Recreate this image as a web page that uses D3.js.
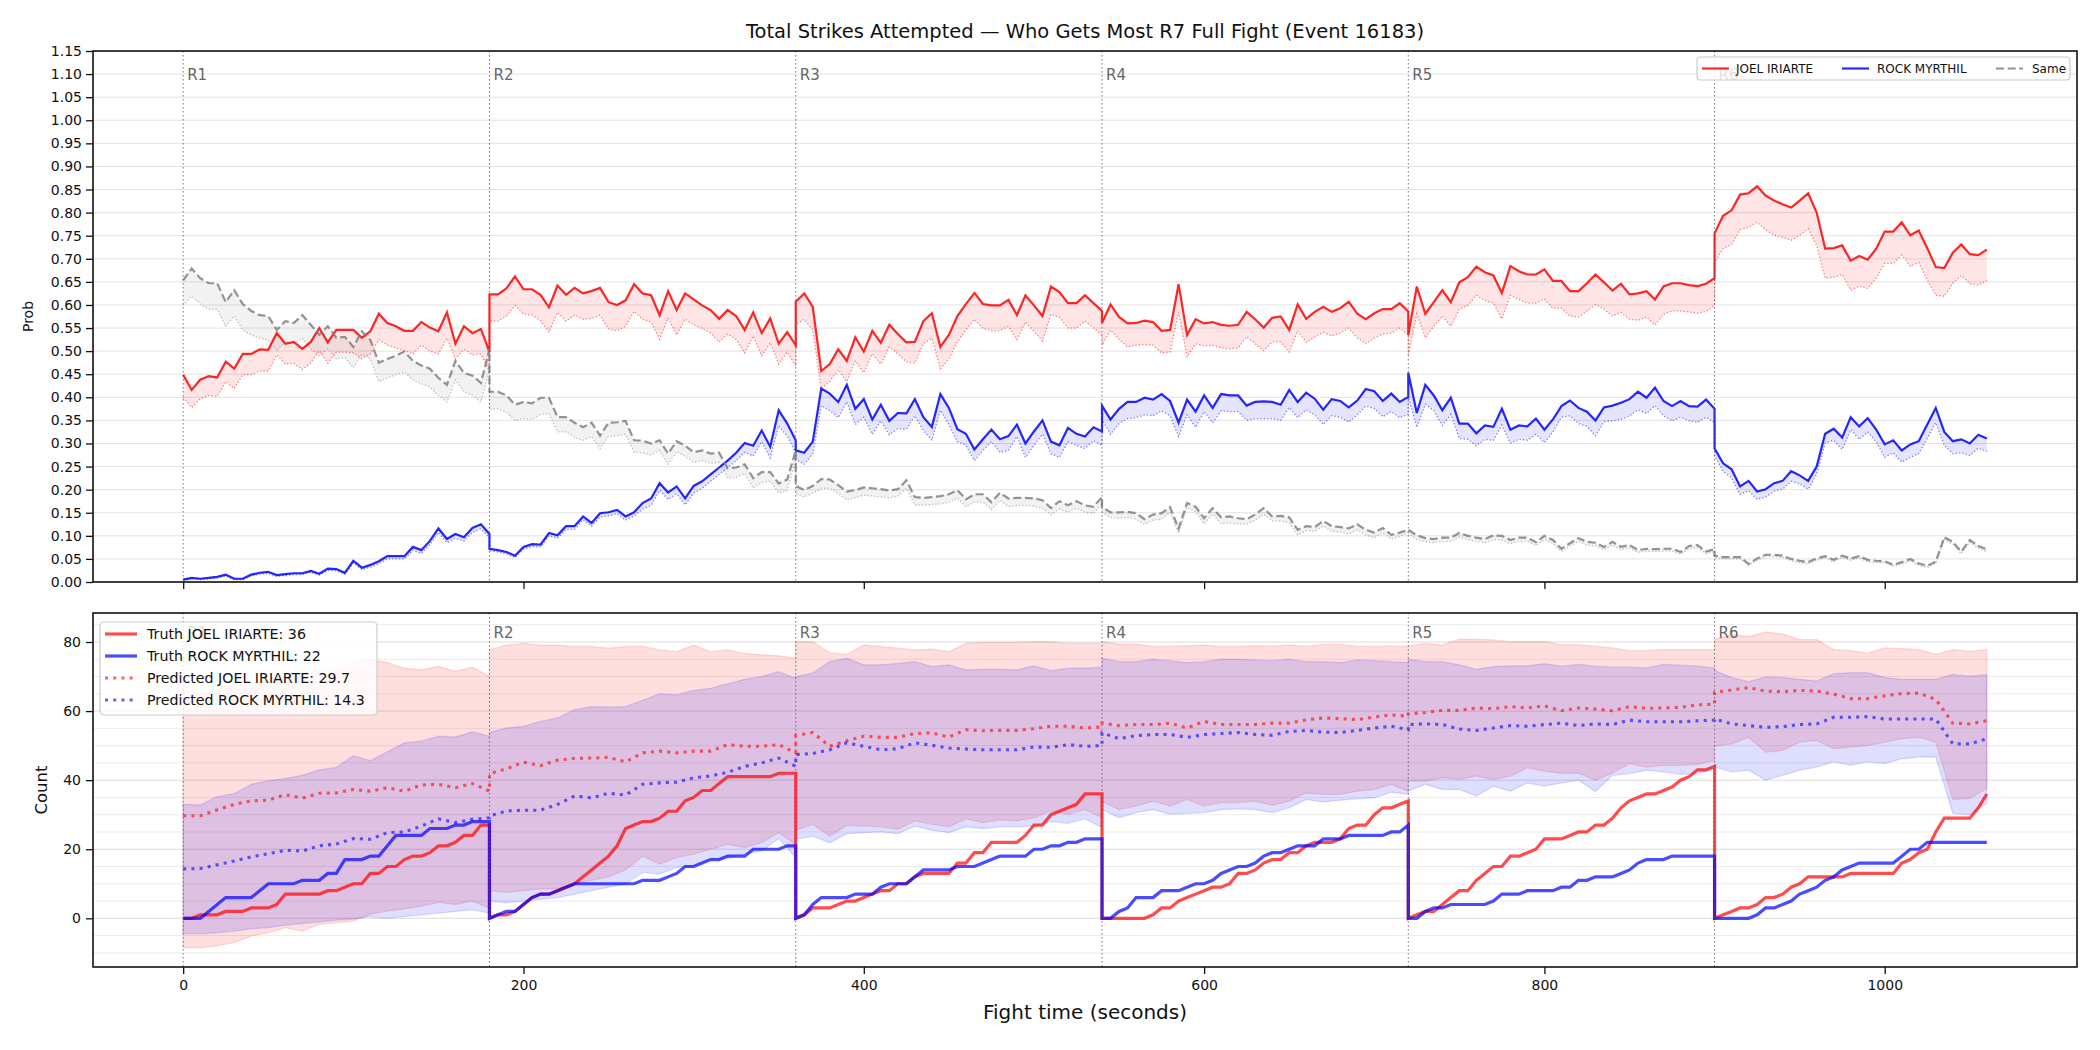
<!DOCTYPE html>
<html lang="en">
<head>
<meta charset="UTF-8">
<title>Total Strikes Attempted</title>
<script src="https://cdn.jsdelivr.net/npm/d3@7"></script>
<style>
  body { margin: 0; background: #fff; }
  svg { display: block; font-family: "DejaVu Sans", sans-serif; }
</style>
</head>
<body>
<svg id="chart" width="2100" height="1050"></svg>
<script>
// ---- data: one array per round (R1..R6), top panel sampled every 5 s ----
const roundStart = [0, 180, 360, 540, 720, 900];
const roundNames = ["R1", "R2", "R3", "R4", "R5", "R6"];

const joelProb = [
  [0.449,0.416,0.438,0.446,0.443,0.477,0.462,0.494,0.494,0.504,0.503,0.539,0.516,0.520,0.505,0.520,0.550,0.519,0.546,0.546,0.546,0.529,0.543,0.581,0.561,0.554,0.544,0.544,0.563,0.551,0.543,0.584,0.516,0.554,0.539,0.548,0.498],
  [0.623,0.623,0.636,0.662,0.634,0.634,0.622,0.595,0.642,0.622,0.637,0.625,0.630,0.637,0.606,0.600,0.610,0.645,0.625,0.621,0.578,0.630,0.589,0.625,0.612,0.599,0.589,0.570,0.589,0.576,0.546,0.584,0.539,0.571,0.516,0.541,0.513],
  [0.607,0.625,0.596,0.457,0.472,0.504,0.479,0.530,0.499,0.544,0.518,0.557,0.537,0.519,0.520,0.565,0.582,0.509,0.535,0.576,0.602,0.626,0.602,0.599,0.599,0.611,0.578,0.621,0.599,0.576,0.640,0.628,0.604,0.604,0.621,0.604,0.587],
  [0.561,0.601,0.574,0.560,0.561,0.566,0.563,0.544,0.546,0.645,0.535,0.569,0.560,0.563,0.557,0.555,0.557,0.585,0.569,0.551,0.572,0.575,0.546,0.601,0.570,0.585,0.596,0.585,0.593,0.607,0.581,0.569,0.582,0.591,0.591,0.604,0.586],
  [0.535,0.640,0.581,0.606,0.632,0.606,0.649,0.660,0.683,0.671,0.664,0.626,0.684,0.673,0.666,0.666,0.677,0.652,0.652,0.630,0.630,0.647,0.666,0.649,0.631,0.646,0.623,0.625,0.630,0.612,0.640,0.647,0.647,0.643,0.641,0.646,0.658],
  [0.755,0.793,0.805,0.839,0.842,0.857,0.837,0.826,0.818,0.811,0.826,0.842,0.800,0.722,0.723,0.729,0.696,0.706,0.698,0.722,0.759,0.759,0.779,0.751,0.761,0.723,0.682,0.680,0.713,0.731,0.710,0.708,0.720]
];
const joelProbAlt = [
  [0.400,0.378,0.397,0.404,0.402,0.434,0.419,0.449,0.449,0.457,0.457,0.492,0.472,0.474,0.460,0.475,0.501,0.474,0.498,0.498,0.496,0.484,0.494,0.525,0.513,0.507,0.501,0.494,0.513,0.500,0.494,0.528,0.483,0.504,0.492,0.494,0.457],
  [0.565,0.565,0.576,0.599,0.580,0.578,0.566,0.541,0.584,0.565,0.578,0.569,0.571,0.578,0.548,0.544,0.554,0.586,0.569,0.563,0.526,0.572,0.535,0.569,0.557,0.549,0.539,0.520,0.537,0.525,0.496,0.533,0.490,0.518,0.472,0.498,0.468],
  [0.557,0.569,0.546,0.419,0.434,0.460,0.434,0.479,0.453,0.494,0.472,0.509,0.494,0.477,0.474,0.516,0.528,0.462,0.483,0.520,0.546,0.569,0.549,0.544,0.544,0.554,0.525,0.563,0.543,0.522,0.580,0.573,0.550,0.550,0.565,0.550,0.535],
  [0.513,0.546,0.526,0.509,0.513,0.514,0.513,0.496,0.498,0.584,0.488,0.516,0.511,0.513,0.507,0.505,0.507,0.531,0.516,0.501,0.520,0.520,0.498,0.544,0.519,0.531,0.541,0.533,0.539,0.550,0.529,0.516,0.528,0.537,0.539,0.550,0.535],
  [0.490,0.581,0.529,0.554,0.576,0.554,0.591,0.599,0.621,0.610,0.604,0.570,0.621,0.612,0.604,0.604,0.613,0.593,0.593,0.576,0.574,0.587,0.601,0.591,0.576,0.584,0.569,0.567,0.574,0.557,0.580,0.587,0.587,0.585,0.582,0.586,0.599],
  [0.692,0.722,0.731,0.763,0.768,0.779,0.763,0.751,0.746,0.740,0.751,0.765,0.729,0.658,0.660,0.666,0.632,0.641,0.636,0.658,0.690,0.690,0.708,0.684,0.692,0.654,0.621,0.619,0.647,0.664,0.646,0.643,0.653]
];
const rockProb = [
  [0.005,0.009,0.007,0.009,0.011,0.016,0.007,0.007,0.016,0.020,0.022,0.015,0.017,0.019,0.019,0.024,0.018,0.029,0.028,0.020,0.046,0.031,0.037,0.045,0.056,0.056,0.056,0.076,0.069,0.089,0.116,0.093,0.104,0.097,0.117,0.125,0.104],
  [0.072,0.069,0.065,0.057,0.076,0.082,0.081,0.106,0.101,0.121,0.121,0.142,0.128,0.149,0.151,0.156,0.142,0.151,0.171,0.181,0.214,0.194,0.207,0.181,0.208,0.218,0.233,0.248,0.263,0.280,0.301,0.295,0.328,0.293,0.372,0.343,0.307],
  [0.285,0.280,0.304,0.419,0.408,0.390,0.427,0.375,0.396,0.352,0.384,0.349,0.366,0.365,0.396,0.357,0.336,0.407,0.377,0.331,0.321,0.287,0.309,0.330,0.309,0.316,0.341,0.300,0.326,0.350,0.304,0.296,0.334,0.321,0.315,0.335,0.326],
  [0.382,0.352,0.375,0.390,0.390,0.399,0.395,0.407,0.392,0.345,0.395,0.369,0.404,0.377,0.407,0.404,0.404,0.382,0.390,0.391,0.390,0.384,0.416,0.390,0.410,0.397,0.373,0.396,0.392,0.378,0.393,0.418,0.413,0.392,0.408,0.390,0.401],
  [0.453,0.366,0.427,0.404,0.372,0.399,0.343,0.343,0.322,0.339,0.336,0.375,0.330,0.339,0.337,0.354,0.330,0.352,0.381,0.393,0.377,0.369,0.350,0.378,0.382,0.388,0.396,0.412,0.399,0.421,0.392,0.381,0.392,0.381,0.380,0.395,0.375],
  [0.289,0.257,0.244,0.207,0.219,0.196,0.201,0.214,0.219,0.240,0.231,0.219,0.250,0.321,0.332,0.313,0.357,0.337,0.355,0.330,0.298,0.307,0.285,0.298,0.305,0.341,0.377,0.325,0.305,0.309,0.300,0.319,0.311]
];
const rockProbAlt = [
  [0.003,0.007,0.005,0.007,0.009,0.013,0.005,0.005,0.013,0.017,0.019,0.012,0.014,0.016,0.016,0.021,0.015,0.025,0.024,0.017,0.041,0.027,0.032,0.040,0.050,0.050,0.050,0.069,0.062,0.081,0.107,0.085,0.095,0.089,0.108,0.115,0.096],
  [0.068,0.065,0.061,0.053,0.071,0.077,0.076,0.100,0.095,0.114,0.114,0.135,0.121,0.141,0.143,0.148,0.134,0.143,0.158,0.166,0.199,0.179,0.191,0.167,0.193,0.203,0.218,0.233,0.248,0.263,0.281,0.273,0.304,0.269,0.338,0.316,0.281],
  [0.266,0.255,0.278,0.382,0.371,0.356,0.390,0.341,0.357,0.320,0.349,0.319,0.332,0.331,0.360,0.328,0.307,0.372,0.341,0.304,0.296,0.263,0.285,0.304,0.281,0.285,0.315,0.270,0.296,0.320,0.278,0.270,0.304,0.296,0.289,0.306,0.296],
  [0.352,0.320,0.343,0.354,0.356,0.362,0.360,0.371,0.360,0.315,0.362,0.335,0.369,0.345,0.371,0.369,0.369,0.350,0.354,0.354,0.354,0.350,0.378,0.356,0.373,0.362,0.341,0.360,0.357,0.346,0.362,0.381,0.376,0.358,0.369,0.356,0.363],
  [0.401,0.335,0.385,0.371,0.339,0.363,0.311,0.309,0.295,0.309,0.307,0.340,0.301,0.309,0.307,0.320,0.302,0.325,0.357,0.360,0.343,0.337,0.317,0.347,0.349,0.352,0.360,0.373,0.365,0.382,0.360,0.349,0.357,0.349,0.346,0.357,0.345],
  [0.274,0.240,0.225,0.190,0.198,0.179,0.184,0.197,0.201,0.218,0.213,0.201,0.233,0.301,0.307,0.287,0.330,0.309,0.325,0.304,0.270,0.280,0.260,0.270,0.278,0.311,0.345,0.296,0.278,0.280,0.274,0.290,0.283]
];
const sameProb = [
  [0.653,0.679,0.658,0.647,0.647,0.606,0.632,0.602,0.587,0.578,0.576,0.546,0.565,0.561,0.578,0.557,0.535,0.554,0.529,0.531,0.509,0.543,0.524,0.475,0.483,0.490,0.499,0.479,0.469,0.462,0.442,0.427,0.479,0.453,0.447,0.431,0.505],
  [0.412,0.412,0.404,0.384,0.390,0.387,0.399,0.399,0.357,0.357,0.345,0.335,0.345,0.317,0.345,0.346,0.349,0.307,0.306,0.300,0.307,0.278,0.305,0.295,0.281,0.285,0.278,0.280,0.246,0.248,0.255,0.225,0.238,0.238,0.213,0.222,0.285],
  [0.208,0.199,0.208,0.223,0.222,0.210,0.196,0.199,0.205,0.203,0.201,0.198,0.201,0.220,0.184,0.182,0.184,0.186,0.190,0.199,0.179,0.190,0.190,0.173,0.193,0.181,0.182,0.182,0.181,0.177,0.160,0.175,0.166,0.175,0.166,0.163,0.184],
  [0.162,0.151,0.151,0.152,0.149,0.136,0.146,0.149,0.162,0.116,0.171,0.163,0.138,0.160,0.140,0.142,0.138,0.136,0.146,0.160,0.142,0.143,0.140,0.113,0.121,0.119,0.132,0.121,0.119,0.116,0.125,0.113,0.107,0.117,0.102,0.107,0.113],
  [0.113,0.101,0.095,0.093,0.096,0.096,0.106,0.100,0.096,0.093,0.101,0.100,0.091,0.096,0.096,0.086,0.100,0.091,0.072,0.084,0.095,0.087,0.085,0.076,0.087,0.076,0.080,0.069,0.072,0.071,0.072,0.072,0.065,0.078,0.080,0.066,0.071],
  [0.057,0.054,0.054,0.054,0.039,0.051,0.059,0.059,0.057,0.050,0.046,0.043,0.051,0.056,0.048,0.057,0.051,0.056,0.048,0.046,0.045,0.037,0.043,0.050,0.040,0.035,0.044,0.097,0.087,0.066,0.091,0.078,0.071]
];
const sameProbAlt = [
  [0.599,0.619,0.602,0.591,0.590,0.554,0.576,0.546,0.535,0.528,0.524,0.501,0.520,0.516,0.528,0.505,0.490,0.505,0.483,0.487,0.464,0.494,0.483,0.434,0.442,0.449,0.455,0.438,0.429,0.422,0.404,0.390,0.438,0.412,0.404,0.390,0.460],
  [0.375,0.375,0.367,0.350,0.354,0.352,0.363,0.365,0.325,0.325,0.313,0.307,0.315,0.289,0.315,0.317,0.320,0.281,0.280,0.275,0.285,0.255,0.283,0.272,0.259,0.263,0.257,0.259,0.225,0.227,0.235,0.203,0.216,0.218,0.193,0.198,0.266],
  [0.192,0.184,0.192,0.203,0.203,0.192,0.178,0.183,0.188,0.186,0.184,0.182,0.186,0.203,0.167,0.166,0.168,0.169,0.173,0.182,0.163,0.173,0.173,0.157,0.177,0.163,0.166,0.166,0.164,0.160,0.146,0.158,0.151,0.160,0.151,0.149,0.169],
  [0.151,0.140,0.138,0.140,0.136,0.125,0.134,0.136,0.151,0.106,0.162,0.152,0.126,0.147,0.126,0.128,0.126,0.125,0.134,0.147,0.132,0.132,0.128,0.102,0.111,0.110,0.121,0.110,0.109,0.104,0.113,0.102,0.096,0.106,0.093,0.099,0.106],
  [0.106,0.092,0.087,0.085,0.088,0.088,0.097,0.092,0.088,0.085,0.092,0.091,0.083,0.088,0.088,0.079,0.092,0.084,0.066,0.078,0.088,0.080,0.078,0.070,0.080,0.070,0.074,0.064,0.067,0.066,0.067,0.067,0.060,0.072,0.074,0.061,0.066],
  [0.052,0.050,0.050,0.050,0.036,0.047,0.055,0.055,0.053,0.046,0.042,0.039,0.047,0.052,0.044,0.053,0.047,0.052,0.044,0.042,0.041,0.034,0.039,0.046,0.036,0.032,0.040,0.092,0.082,0.061,0.086,0.073,0.066]
];

// bottom panel: cumulative truth every 5 s, predictions and bands every 10 s
const truthJoel = [
  [0,0,1,1,1,2,2,2,3,3,3,4,7,7,7,7,7,8,8,9,10,10,13,13,15,15,17,18,18,19,21,21,22,24,24,27,27],
  [0,1,1,2,4,6,7,7,8,9,10,12,14,16,18,21,26,27,28,28,29,31,31,34,35,37,37,39,41,41,41,41,41,41,42,42,42],
  [0,1,3,3,3,4,5,5,6,7,8,8,10,10,12,13,13,13,13,16,16,19,19,22,22,22,22,24,27,27,30,31,32,33,36,36,36],
  [0,0,0,0,0,0,1,3,3,5,6,7,8,9,9,10,13,13,14,16,17,17,19,19,21,22,22,22,23,26,27,27,30,32,32,33,34],
  [0,1,2,2,4,6,8,8,11,13,15,15,18,18,19,20,23,23,23,24,25,25,27,27,29,32,34,35,36,36,37,38,40,41,43,43,44],
  [0,1,2,3,3,4,6,6,7,9,10,12,12,12,12,12,13,13,13,13,13,13,16,17,19,20,25,29,29,29,29,32,36]
];
const truthRock = [
  [0,0,0,2,4,6,6,6,6,8,10,10,10,10,11,11,11,13,13,17,17,17,18,18,21,24,24,24,24,26,26,26,27,27,28,28,28],
  [0,1,2,2,4,6,7,7,8,9,10,10,10,10,10,10,10,10,11,11,11,12,13,15,15,16,17,17,18,18,18,20,20,20,20,21,21],
  [0,1,4,6,6,6,6,7,7,7,9,10,10,10,12,14,14,14,14,15,15,15,16,17,18,18,18,18,20,20,21,21,22,22,23,23,23],
  [0,0,2,3,6,6,6,8,8,8,9,10,10,11,13,14,15,15,16,18,19,19,20,21,21,21,23,23,23,24,24,24,24,24,25,25,27],
  [0,0,2,3,3,4,4,4,4,4,5,7,7,7,8,8,8,8,9,9,11,11,12,12,12,13,14,16,17,17,17,18,18,18,18,18,18],
  [0,0,0,0,0,1,3,3,4,5,7,8,9,11,12,14,15,16,16,16,16,16,18,20,20,22,22,22,22,22,22,22,22]
];
const predJoel = [
  [29.7,29.7,31.4,33.0,34.0,34.2,35.8,34.8,36.2,36.3,37.3,36.8,37.8,36.8,38.6,38.8,37.8,39.0,36.8],
  [41.9,43.3,45.2,44.2,45.8,46.3,46.4,46.6,45.3,47.9,48.4,47.9,48.4,48.4,50.3,49.8,49.8,50.3,47.9],
  [52.9,53.8,49.8,51.4,52.7,52.4,52.4,53.5,53.7,52.5,54.6,54.3,54.4,54.4,54.9,55.6,55.6,55.1,55.4],
  [56.5,55.8,56.1,56.1,56.5,55.1,57.0,56.1,56.1,56.1,56.5,56.5,57.5,58.0,57.8,57.5,58.3,58.9,58.5],
  [59.2,59.6,60.2,60.2,60.9,60.7,61.3,60.9,61.5,60.1,60.9,60.6,60.1,61.3,60.8,60.9,61.1,61.8,62.0],
  [65.4,66.1,66.8,65.8,65.6,66.0,65.8,64.9,63.6,63.6,64.4,65.1,65.2,63.4,56.5,56.3,57.2]
];
const predRock = [
  [14.3,14.4,15.5,16.6,17.8,18.7,19.7,19.5,21.0,21.5,23.1,22.9,24.8,25.0,26.7,28.8,27.7,28.7,29.1],
  [29.6,31.1,31.3,31.3,33.0,35.4,34.9,36.2,35.7,38.8,39.2,39.4,40.7,41.2,42.3,44.0,45.0,46.4,44.0],
  [47.4,47.7,48.8,50.8,49.8,48.8,49.1,50.8,50.1,49.3,49.0,48.8,48.8,48.8,49.6,49.5,50.3,49.8,50.0],
  [53.7,52.0,52.9,53.2,53.2,52.4,53.2,53.5,53.8,53.2,53.0,54.1,54.4,53.9,53.8,54.4,55.1,55.6,54.6],
  [56.1,56.3,56.1,54.8,54.4,55.1,55.8,55.6,56.1,56.5,55.8,56.3,56.1,57.4,56.9,56.9,56.9,57.2,57.4],
  [57.7,56.3,55.8,55.3,55.5,56.1,56.3,58.2,58.2,58.4,57.7,57.7,57.7,57.7,50.5,50.5,52.0]
];
const joelHi = [
  [66,65,66,67,68,69,70,71,72,72,74,75,74,72.4,71.9,72.9,71.5,72.7,70],
  [77.7,79.1,79.6,79.1,79.1,78.7,78.7,78.2,78.7,78.8,77.7,77.2,79.1,77.2,77.7,76.7,76.3,76.0,75.3],
  [80.1,80.1,76.9,76.4,79.1,78.7,78.2,77.7,77.9,77.2,79.6,79.9,79.9,79.9,80.1,80.1,79.6,79.6,79.6],
  [80.1,79.4,79.4,78.7,78.8,78.9,79.1,78.7,78.7,78.9,78.8,79.1,78.8,79.3,79.3,78.8,78.7,78.8,78.7],
  [78.8,79.6,79.1,80.8,80.8,80.6,80.1,80.1,80.1,79.2,79.2,78.8,78.3,77.5,77.5,77.8,77.8,77.8,77.8],
  [80.7,82.1,81.6,82.9,82.3,80.7,80.7,77.8,77.5,76.8,78.3,78.1,77.8,76.4,77.8,77.3,77.8]
];
const joelLo = [
  [-8.5,-8.5,-8,-7,-5.1,-4.2,-2.7,-3.7,-1.7,-1.3,-0.8,1.2,2.1,2.7,3.5,4.6,4,5,3],
  [8,7.5,8,8.5,8.5,10,11,12,14,18,15.7,17.6,18.6,20,21.4,20.5,21.9,24.8,21.4],
  [25.5,27.2,23.8,26.9,26.7,26.5,25.8,28.2,27.2,26.5,28.8,27.7,28.5,28.2,29.1,31.1,30.1,31.5,29.1],
  [33.9,31.5,32.5,33.9,32.5,34.4,32.5,33.5,33.5,33.9,32.7,33.9,36.3,35.9,35.9,36.8,37.3,38.8,36.8],
  [39.7,39.7,40.7,40.2,41.2,40.2,41.2,43.6,42.6,42,42,40,42.1,44.8,43.8,44.3,44.3,44.6,45.7],
  [49.8,50.5,52.4,48.1,48.6,51,51.5,49.1,49.6,50,51,52,52.4,51,34.3,34.7,37.6]
];
const rockHi = [
  [33,32.8,35.2,36.1,38.8,39.8,40.5,41.4,43,43.7,47.1,45.6,48.2,50.8,51.3,52.7,52.5,54,52.7],
  [53.8,55.1,55.6,57,58,60.4,61.3,61.2,61.3,63.1,65,64.7,66,66.6,67.9,69.2,70,71.4,69.5],
  [70,71,74.3,75.3,73.4,73.4,73.8,74.3,72.9,73.4,71.9,72.1,72.1,71.9,73.1,71.7,72.4,72.4,72.7],
  [75.3,74.3,74.3,75,74.6,74,74.3,75,75,74.8,74.6,75,74.3,74.3,74,74.8,74.6,74.3,74],
  [75,74.3,74.3,73.4,72.1,72.9,73.1,73.1,73.7,73,73.5,73,72.7,72.7,72.5,73.5,73.3,73,72.5],
  [71.8,69.7,68.5,69.9,69.7,69.2,68.7,70.8,71.1,71.1,69.7,69.2,69.2,69.2,70.6,70.1,70.6]
];
const rockLo = [
  [-4.5,-4.5,-4.2,-3.7,-3,-2.7,-2,-1.5,-1,-0.5,-0.2,0.5,0,0.5,1,1.5,2,2.5,1.5],
  [5,4.5,5,5.5,6,7,8,9,10,13.3,12.8,14.7,15.2,17.1,17.3,18.6,19.5,23.1,17.6],
  [22.9,23.8,21.9,24.5,24.8,25,24.5,26.7,25.5,24.8,26.5,26,26.5,26.5,26.7,28,27.5,28.8,26.3],
  [31.5,29.1,30.6,31.5,30.1,30.4,30.6,31.5,31.7,31.5,30.6,32,34.4,33.7,34.2,34.6,34.9,36.5,35.9],
  [36.8,38.8,37.3,37.3,35.4,38.3,36.8,39.2,38.3,39.2,40,36.7,41.4,41.9,42.9,42.4,41.7,41.9,43.3],
  [43.8,42.4,42.9,40,41.4,42.9,43.8,45.3,44.3,45.3,44.8,46.2,46.7,46.7,30.4,30,33.3]
];

const probTicks = d3.range(0, 23 + 1).map(i => i * 0.05);
const countTicks = [0, 20, 40, 60, 80];
const timeTicks = [0, 200, 400, 600, 800, 1000];

// ---- helpers ----
function joinRounds(rounds, step) {
  const out = [];
  rounds.forEach((vals, r) => vals.forEach((v, i) => out.push({ t: roundStart[r] + i * step, v: v })));
  return out;
}
function pairRounds(a, b, step) {
  const A = joinRounds(a, step), B = joinRounds(b, step);
  return A.map((d, i) => ({ t: d.t, a: d.v, b: B[i].v }));
}

const svg = d3.select("#chart");
const L = 93, R = 2077;
const P1 = { top: 51, bottom: 582 };
const P2 = { top: 613, bottom: 967 };

const x = d3.scaleLinear().domain([-53, 1113]).range([L, R]);
const yP = d3.scaleLinear().domain([0, 1.15]).range([P1.bottom, P1.top]);
const yC = d3.scaleLinear().domain([-14.1, 88.4]).range([P2.bottom, P2.top]);

// ---- gridlines ----
svg.append("g").selectAll("line").data(probTicks).enter().append("line")
  .attr("x1", L).attr("x2", R).attr("y1", d => yP(d)).attr("y2", d => yP(d))
  .attr("stroke", "#e3e3e3").attr("stroke-width", 1);
svg.append("g").selectAll("line").data(d3.range(-10, 86, 5)).enter().append("line")
  .attr("x1", L).attr("x2", R).attr("y1", d => yC(d)).attr("y2", d => yC(d))
  .attr("stroke", d => d % 20 === 0 ? "#dcdcdc" : "#ececec").attr("stroke-width", 1);

// ---- top panel ----
const gTop = svg.append("g");
const lineP = d3.line().x(d => x(d.t)).y(d => yP(d.v));
const areaP = d3.area().x(d => x(d.t)).y0(d => yP(d.b)).y1(d => yP(d.a));

const topSeries = [
  { main: joelProb, alt: joelProbAlt, color: "red", dash: null },
  { main: rockProb, alt: rockProbAlt, color: "blue", dash: null },
  { main: sameProb, alt: sameProbAlt, color: "gray", dash: "8,3.6" }
];
topSeries.forEach(s => {
  gTop.append("path").datum(pairRounds(s.main, s.alt, 5)).attr("d", areaP)
    .attr("fill", s.color).attr("fill-opacity", 0.1);
});
topSeries.forEach(s => {
  gTop.append("path").datum(joinRounds(s.alt, 5)).attr("d", lineP)
    .attr("fill", "none").attr("stroke", s.color).attr("stroke-opacity", 0.5)
    .attr("stroke-width", 1.3).attr("stroke-dasharray", "1.3,2.1");
});
topSeries.forEach(s => {
  gTop.append("path").datum(joinRounds(s.main, 5)).attr("d", lineP)
    .attr("fill", "none").attr("stroke", s.color).attr("stroke-opacity", 0.85)
    .attr("stroke-width", 2.2).attr("stroke-dasharray", s.dash);
});

// ---- bottom panel ----
const gBot = svg.append("g");
const areaC = d3.area().x(d => x(d.t)).y0(d => yC(d.a)).y1(d => yC(d.b));
const lineC = d3.line().x(d => x(d.t)).y(d => yC(d.v));

[[joelLo, joelHi, "red"], [rockLo, rockHi, "blue"]].forEach(([lo, hi, c]) => {
  gBot.append("path").datum(pairRounds(lo, hi, 10)).attr("d", areaC)
    .attr("fill", c).attr("fill-opacity", 0.13)
    .attr("stroke", c).attr("stroke-opacity", 0.13).attr("stroke-width", 1.3);
});
gBot.append("path").datum(joinRounds(truthJoel, 5)).attr("d", lineC)
  .attr("fill", "none").attr("stroke", "red").attr("stroke-opacity", 0.7).attr("stroke-width", 3.2);
gBot.append("path").datum(joinRounds(truthRock, 5)).attr("d", lineC)
  .attr("fill", "none").attr("stroke", "blue").attr("stroke-opacity", 0.7).attr("stroke-width", 3.2);
gBot.append("path").datum(joinRounds(predJoel, 10)).attr("d", lineC)
  .attr("fill", "none").attr("stroke", "red").attr("stroke-opacity", 0.6)
  .attr("stroke-width", 3.1).attr("stroke-dasharray", "3.1,5.1");
gBot.append("path").datum(joinRounds(predRock, 10)).attr("d", lineC)
  .attr("fill", "none").attr("stroke", "blue").attr("stroke-opacity", 0.6)
  .attr("stroke-width", 3.1).attr("stroke-dasharray", "3.1,5.1");

// ---- round markers ----
[P1, P2].forEach((p, pi) => {
  roundStart.forEach((t, i) => {
    svg.append("line").attr("x1", x(t)).attr("x2", x(t)).attr("y1", p.top).attr("y2", p.bottom)
      .attr("stroke", "#555").attr("stroke-opacity", 0.8).attr("stroke-width", 1).attr("stroke-dasharray", "1.5,2.5");
    svg.append("text").attr("x", x(t) + 4).attr("y", pi === 0 ? 80 : 638)
      .attr("font-size", 15).attr("fill", "#666").text(roundNames[i]);
  });
});

// ---- spines & axes ----
[P1, P2].forEach(p => {
  svg.append("rect").attr("x", L).attr("y", p.top).attr("width", R - L).attr("height", p.bottom - p.top)
    .attr("fill", "none").attr("stroke", "#111").attr("stroke-width", 1.6);
});
function styleAxis(g) {
  g.select(".domain").remove();
  g.selectAll(".tick line").attr("stroke", "#111").attr("stroke-width", 1.3);
  g.selectAll(".tick text").attr("font-family", "DejaVu Sans").attr("fill", "#111");
}
svg.append("g").attr("transform", `translate(${L},0)`)
  .call(d3.axisLeft(yP).tickValues(probTicks).tickFormat(d3.format(".2f")).tickSize(7).tickPadding(4))
  .call(styleAxis).selectAll("text").attr("font-size", 14);
svg.append("g").attr("transform", `translate(0,${P1.bottom})`)
  .call(d3.axisBottom(x).tickValues(timeTicks).tickFormat("").tickSize(7))
  .call(styleAxis);
svg.append("g").attr("transform", `translate(${L},0)`)
  .call(d3.axisLeft(yC).tickValues(countTicks).tickFormat(d3.format("d")).tickSize(7).tickPadding(5))
  .call(styleAxis).selectAll("text").attr("font-size", 14);
svg.append("g").attr("transform", `translate(0,${P2.bottom})`)
  .call(d3.axisBottom(x).tickValues(timeTicks).tickFormat(d3.format("d")).tickSize(7).tickPadding(6))
  .call(styleAxis).selectAll("text").attr("font-size", 14);

// ---- labels ----
svg.append("text").attr("x", (L + R) / 2).attr("y", 38).attr("text-anchor", "middle")
  .attr("font-size", 19.5).attr("fill", "#111")
  .text("Total Strikes Attempted \u2014 Who Gets Most R7 Full Fight (Event 16183)");
svg.append("text").attr("transform", `translate(33,${(P1.top + P1.bottom) / 2}) rotate(-90)`)
  .attr("text-anchor", "middle").attr("font-size", 14).attr("fill", "#111").text("Prob");
svg.append("text").attr("transform", `translate(47,${(P2.top + P2.bottom) / 2}) rotate(-90)`)
  .attr("text-anchor", "middle").attr("font-size", 16.5).attr("fill", "#111").text("Count");
svg.append("text").attr("x", (L + R) / 2).attr("y", 1019).attr("text-anchor", "middle")
  .attr("font-size", 20).attr("fill", "#111").text("Fight time (seconds)");

// ---- legends (drawn last, semi-transparent like the original) ----
const lgTop = svg.append("g");
lgTop.append("rect").attr("x", 1697).attr("y", 57).attr("width", 373).attr("height", 23).attr("rx", 3)
  .attr("fill", "#fff").attr("fill-opacity", 0.8).attr("stroke", "#ccc").attr("stroke-width", 1.2);
[
  { x0: 1702, tx: 1736, color: "red", dash: null, label: "JOEL IRIARTE" },
  { x0: 1842, tx: 1877, color: "blue", dash: null, label: "ROCK MYRTHIL" },
  { x0: 1996, tx: 2032, color: "gray", dash: "8,3.6", label: "Same" }
].forEach(it => {
  lgTop.append("line").attr("x1", it.x0).attr("x2", it.x0 + 27).attr("y1", 68.5).attr("y2", 68.5)
    .attr("stroke", it.color).attr("stroke-opacity", 0.85).attr("stroke-width", 2.2).attr("stroke-dasharray", it.dash);
  lgTop.append("text").attr("x", it.tx).attr("y", 73).attr("font-size", 12).attr("fill", "#111").text(it.label);
});

const lgBot = svg.append("g");
lgBot.append("rect").attr("x", 100).attr("y", 622).attr("width", 277).attr("height", 93).attr("rx", 4)
  .attr("fill", "#fff").attr("fill-opacity", 0.8).attr("stroke", "#ccc").attr("stroke-width", 1.2);
[
  { color: "red", op: 0.7, dash: null, label: "Truth JOEL IRIARTE: 36" },
  { color: "blue", op: 0.7, dash: null, label: "Truth ROCK MYRTHIL: 22" },
  { color: "red", op: 0.6, dash: "3.1,5.1", label: "Predicted JOEL IRIARTE: 29.7" },
  { color: "blue", op: 0.6, dash: "3.1,5.1", label: "Predicted ROCK MYRTHIL: 14.3" }
].forEach((it, i) => {
  const cy = 634 + i * 22;
  lgBot.append("line").attr("x1", 105).attr("x2", 137).attr("y1", cy).attr("y2", cy)
    .attr("stroke", it.color).attr("stroke-opacity", it.op).attr("stroke-width", 3.2).attr("stroke-dasharray", it.dash);
  lgBot.append("text").attr("x", 147).attr("y", cy + 5).attr("font-size", 14.2).attr("fill", "#111").text(it.label);
});
</script>
</body>
</html>
